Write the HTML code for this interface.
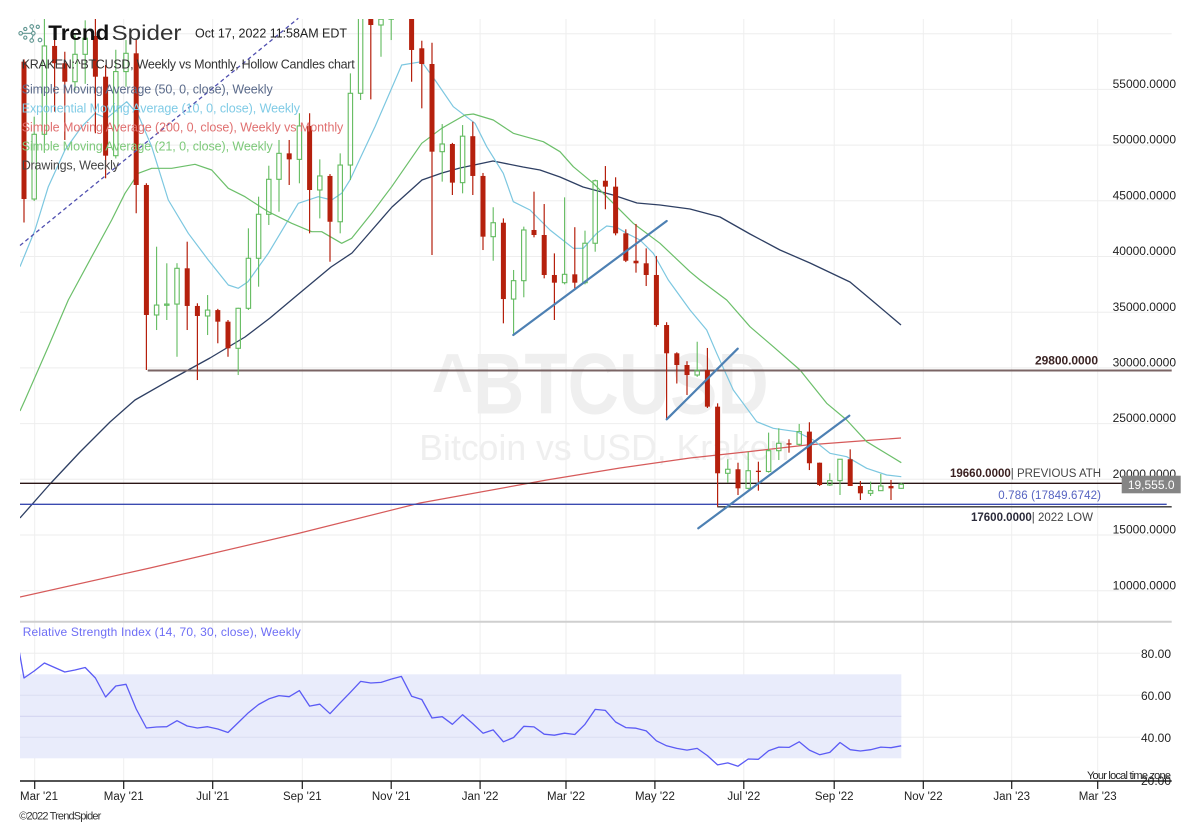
<!DOCTYPE html>
<html><head><meta charset="utf-8">
<style>
html,body{margin:0;padding:0;background:#fff;width:1200px;height:825px;overflow:hidden;}
svg{display:block;font-family:"Liberation Sans",Arial,sans-serif;}
</style></head>
<body>
<svg id="c" width="1200" height="825" viewBox="0 0 1200 825" xmlns="http://www.w3.org/2000/svg">
<defs>
<clipPath id="main"><rect x="20" y="19" width="1152" height="602"/></clipPath>
<clipPath id="rsi"><rect x="20" y="623" width="1152" height="158"/></clipPath>
</defs>
<rect width="1200" height="825" fill="#fff"/>

<!-- vertical gridlines -->
<g stroke="#eeeeee" stroke-width="1">
<line x1="34.7" y1="19" x2="34.7" y2="781"/>
<line x1="123.7" y1="19" x2="123.7" y2="781"/>
<line x1="212.7" y1="19" x2="212.7" y2="781"/>
<line x1="302.3" y1="19" x2="302.3" y2="781"/>
<line x1="391.2" y1="19" x2="391.2" y2="781"/>
<line x1="480.1" y1="19" x2="480.1" y2="781"/>
<line x1="566" y1="19" x2="566" y2="781"/>
<line x1="654.9" y1="19" x2="654.9" y2="781"/>
<line x1="743.8" y1="19" x2="743.8" y2="781"/>
<line x1="834.2" y1="19" x2="834.2" y2="781"/>
<line x1="923.3" y1="19" x2="923.3" y2="781"/>
<line x1="1011.7" y1="19" x2="1011.7" y2="781"/>
<line x1="1097.7" y1="19" x2="1097.7" y2="781"/>
</g>
<!-- horizontal gridlines main -->
<g stroke="#eeeeee" stroke-width="1">
<line x1="20" y1="33.7" x2="1171.7" y2="33.7"/>
<line x1="20" y1="89.4" x2="1171.7" y2="89.4"/>
<line x1="20" y1="145.1" x2="1171.7" y2="145.1"/>
<line x1="20" y1="200.8" x2="1171.7" y2="200.8"/>
<line x1="20" y1="256.5" x2="1171.7" y2="256.5"/>
<line x1="20" y1="312.2" x2="1171.7" y2="312.2"/>
<line x1="20" y1="367.9" x2="1171.7" y2="367.9"/>
<line x1="20" y1="423.6" x2="1171.7" y2="423.6"/>
<line x1="20" y1="479.3" x2="1171.7" y2="479.3"/>
<line x1="20" y1="535" x2="1171.7" y2="535"/>
<line x1="20" y1="590.7" x2="1171.7" y2="590.7"/>
</g>

<!-- watermark -->
<text x="431.7" y="413.3" font-size="86" font-weight="bold" fill="#efefef" textLength="337" lengthAdjust="spacingAndGlyphs">^BTCUSD</text>
<text x="419.3" y="460" font-size="36" fill="#efefef" textLength="370" lengthAdjust="spacingAndGlyphs">Bitcoin vs USD, Kraken</text>

<!-- moving averages -->
<g clip-path="url(#main)" fill="none" stroke-linejoin="round">
<polyline stroke="#d65a5a" stroke-width="1.2" points="20,597 150,568 300,533 420,503 546.7,480 620,468 690,458 750,451.5 806.7,445 860,441 901,438"/>
<polyline stroke="#2e3f63" stroke-width="1.3" points="20,518 50,484 80,452 110,422 135,400 170,380 210,358 245,337 270,318 295,297 331,267 352,253 372,230 392,207 422,180 442,173 460,168 493,161 523,167 540,170 560,177 583,187 613,195 637,203 660,205 690,209 720,217 750,234 780,250 810,263 850,282 875,303 901,325"/>
<polyline stroke="#7cc7e0" stroke-width="1.2" points="20,266.7 35,230 48.3,186.7 65,150 81.7,126.7 95,113.3 106.7,118.3 126.7,101.7 138.3,115 151.7,146.7 168.3,200 188.3,233.3 208.3,260 228.3,285 238.3,288.3 248,281.7 268.3,253.3 298.3,203.3 318.3,196.7 331.7,200 341.7,193.3 350,180 375,126.7 401.7,65 421.7,61.7 435,80 453.3,106.7 475,123.3 486.7,146.7 503.3,173.3 513.3,201.7 530,210 550,230 573.3,248.3 583.3,248.3 596.7,233.3 606.7,226 616.7,227.3 626.7,233.3 640,240 653.3,253.3 668.3,280 690,310 706.7,330 716.7,353.3 733.3,390 756.7,421.7 773.3,428.3 796.7,431.7 813.3,440 830,453.3 846.7,456.7 866.7,468.3 886.7,475 901.3,476.7"/>
<polyline stroke="#6cbf6a" stroke-width="1.2" points="20,411 25,400 48.3,346.7 68.3,300 91.7,256.7 111.7,220 125,193.3 138.3,173.3 151.7,168.3 171.7,168.3 195,164.3 211.7,170 228.3,188.3 245,196.7 255,203.3 268.3,211.7 291.7,223.3 311.7,231.7 321.7,231.7 341.7,243.3 351.7,238.3 371.7,213.3 391.7,186.7 421.7,143.3 441.7,128.3 465,115 473.3,114 493.3,120 513.3,133.3 543.3,141.7 560,151.7 573.3,166.7 593.3,183.3 616.7,206.7 633.3,223.3 660,243.3 690,271.7 700,280 726.7,300 750,326.7 773.3,346.7 800,370 826.7,403.3 846.7,420 866.7,441.7 901.3,462.7"/>
</g>

<!-- horizontal levels -->
<line x1="147.7" y1="370.5" x2="1171.7" y2="370.5" stroke="#7a6464" stroke-width="2"/>
<line x1="20" y1="483.3" x2="1122" y2="483.3" stroke="#2a1515" stroke-width="1.3"/>
<line x1="20" y1="504.3" x2="1166.7" y2="504.3" stroke="#3b4bb0" stroke-width="1.4"/>
<line x1="717.3" y1="506.8" x2="1171.7" y2="506.8" stroke="#333" stroke-width="1.3"/>

<!-- candles -->
<g id="candles" clip-path="url(#main)"></g>

<!-- trend lines -->
<g stroke="#4d80b3" stroke-width="2.2" stroke-linecap="round">
<line x1="513.3" y1="335" x2="666.7" y2="221"/>
<line x1="666.7" y1="419.3" x2="737.7" y2="348.7"/>
<line x1="698.3" y1="528.3" x2="849.3" y2="415.7"/>
</g>
<line x1="20" y1="245.5" x2="298.3" y2="18.3" stroke="#5050b0" stroke-width="1.3" stroke-dasharray="4,3"/>

<!-- header -->
<g fill="none" stroke="#5f9590" stroke-width="1.1">
<circle cx="20.7" cy="33.3" r="1.8"/>
<circle cx="25.3" cy="29" r="1.6"/>
<circle cx="25.3" cy="37.6" r="1.6"/>
<circle cx="31.7" cy="26.5" r="1.8"/>
<circle cx="33.3" cy="33.3" r="1.8"/>
<circle cx="31.7" cy="40.5" r="1.8"/>
<circle cx="37.8" cy="26.8" r="1.6"/>
<circle cx="40" cy="40" r="1.8"/>
<line x1="22.5" y1="33.3" x2="31.5" y2="33.3"/>
<line x1="31.7" y1="28.3" x2="33.3" y2="31.5"/>
<line x1="33.3" y1="35.1" x2="31.7" y2="38.7"/>
</g>
<text x="48.3" y="40" font-size="21" font-weight="bold" fill="#111" textLength="61" lengthAdjust="spacingAndGlyphs">Trend</text>
<text x="111.5" y="40" font-size="21" fill="#333" textLength="70" lengthAdjust="spacingAndGlyphs">Spider</text>
<text x="195" y="37.6" font-size="12.5" fill="#222" textLength="152">Oct 17, 2022 11:58AM EDT</text>
<text x="21.7" y="68.6" font-size="12.5" fill="#333" textLength="333">KRAKEN:^BTCUSD, Weekly vs Monthly, Hollow Candles chart</text>
<text x="21.7" y="93.6" font-size="12.5" fill="#5a6a8a" textLength="251">Simple Moving Average (50, 0, close), Weekly</text>
<text x="21.7" y="112.6" font-size="12.5" fill="#7fcbe6" textLength="278.3">Exponential Moving Average (10, 0, close), Weekly</text>
<text x="21.7" y="131.6" font-size="12.5" fill="#e07070" textLength="321.6">Simple Moving Average (200, 0, close), Weekly vs Monthly</text>
<text x="21.7" y="150.3" font-size="12.5" fill="#7dc97a" textLength="251">Simple Moving Average (21, 0, close), Weekly</text>
<text x="21.7" y="169.3" font-size="12.5" fill="#444" textLength="97.3">Drawings, Weekly</text>

<!-- level annotations -->
<text x="1035" y="364.5" font-size="12" font-weight="bold" fill="#3b2424" textLength="63">29800.0000</text>
<text x="950" y="477" font-size="11.5" fill="#444"><tspan font-weight="bold" fill="#3a2020">19660.0000</tspan>| PREVIOUS ATH</text>
<text x="998.3" y="499" font-size="11.5" fill="#5563c1" textLength="102.7">0.786 (17849.6742)</text>
<text x="971" y="521" font-size="11.5" fill="#444"><tspan font-weight="bold" fill="#2a2a3a">17600.0000</tspan>| 2022 LOW</text>

<!-- right axis labels -->
<g font-size="12" fill="#222" text-anchor="end">
<text x="1176" y="88">55000.0000</text>
<text x="1176" y="143.7">50000.0000</text>
<text x="1176" y="199.4">45000.0000</text>
<text x="1176" y="255.1">40000.0000</text>
<text x="1176" y="310.8">35000.0000</text>
<text x="1176" y="366.5">30000.0000</text>
<text x="1176" y="422.2">25000.0000</text>
<text x="1176" y="477.9">20000.0000</text>
<text x="1176" y="533.6">15000.0000</text>
<text x="1176" y="589.3">10000.0000</text>
</g>
<rect x="1121.7" y="475.7" width="59" height="17.6" fill="#858585"/>
<text x="1151.2" y="488.8" font-size="12" fill="#fff" text-anchor="middle">19,555.0</text>

<!-- RSI panel -->
<line x1="20" y1="621.7" x2="1171.7" y2="621.7" stroke="#cfcfcf" stroke-width="2"/>
<rect x="20" y="674.3" width="881.3" height="84" fill="#e9ecfb"/>
<g stroke="#eeeeee" stroke-width="1">
<line x1="20" y1="653.3" x2="1140" y2="653.3"/>
<line x1="20" y1="695.3" x2="1140" y2="695.3"/>
<line x1="20" y1="737.3" x2="1140" y2="737.3"/>
</g>
<g stroke="#dadef4" stroke-width="1">
<line x1="20" y1="695.3" x2="901.3" y2="695.3"/>
<line x1="20" y1="737.3" x2="901.3" y2="737.3"/>
</g>
<line x1="20" y1="716.3" x2="901.3" y2="716.3" stroke="#d3d6f0" stroke-width="1.2"/>
<text x="22.7" y="636" font-size="12" fill="#6e6ef5" textLength="278">Relative Strength Index (14, 70, 30, close), Weekly</text>
<g id="rsiline" clip-path="url(#rsi)"></g>
<g font-size="12" fill="#222" text-anchor="end">
<text x="1171" y="657.8">80.00</text>
<text x="1171" y="699.8">60.00</text>
<text x="1171" y="741.8">40.00</text>
<text x="1171" y="785">20.00</text>
</g>

<!-- x axis -->
<line x1="20" y1="781" x2="1171.7" y2="781" stroke="#1a1a1a" stroke-width="1.6"/>
<g stroke="#1a1a1a" stroke-width="1.2">
<line x1="34.7" y1="781" x2="34.7" y2="789"/>
<line x1="123.7" y1="781" x2="123.7" y2="789"/>
<line x1="212.7" y1="781" x2="212.7" y2="789"/>
<line x1="302.3" y1="781" x2="302.3" y2="789"/>
<line x1="391.2" y1="781" x2="391.2" y2="789"/>
<line x1="480.1" y1="781" x2="480.1" y2="789"/>
<line x1="566" y1="781" x2="566" y2="789"/>
<line x1="654.9" y1="781" x2="654.9" y2="789"/>
<line x1="743.8" y1="781" x2="743.8" y2="789"/>
<line x1="834.2" y1="781" x2="834.2" y2="789"/>
<line x1="923.3" y1="781" x2="923.3" y2="789"/>
<line x1="1011.7" y1="781" x2="1011.7" y2="789"/>
<line x1="1097.7" y1="781" x2="1097.7" y2="789"/>
</g>
<text x="1171" y="779" font-size="11" fill="#222" text-anchor="end" textLength="84">Your local time zone</text>
<g font-size="11.5" fill="#222" text-anchor="middle">
<text x="39" y="800" >Mar '21</text>
<text x="123.7" y="800">May '21</text>
<text x="212.7" y="800">Jul '21</text>
<text x="302.3" y="800">Sep '21</text>
<text x="391.2" y="800">Nov '21</text>
<text x="480.1" y="800">Jan '22</text>
<text x="566" y="800">Mar '22</text>
<text x="654.9" y="800">May '22</text>
<text x="743.8" y="800">Jul '22</text>
<text x="834.2" y="800">Sep '22</text>
<text x="923.3" y="800">Nov '22</text>
<text x="1011.7" y="800">Jan '23</text>
<text x="1097.7" y="800">Mar '23</text>
</g>
<text x="19.3" y="819.5" font-size="11" fill="#333" textLength="82">©2022 TrendSpider</text>
</svg>

<script>
(function(){
var D=[
[57490,57700,43050,45160],[45160,52550,44980,50970],[50970,61700,49400,58900],[58900,60600,53000,57350],
[57350,58380,50460,55690],[55690,59900,54900,58150],[58150,61200,55500,59590],[59800,64900,51060,56140],
[56140,57190,47020,49050],[49050,58560,48800,56600],[56600,59430,55240,58240],[58240,59430,43880,46420],
[46420,46570,29810,34750],[34750,40880,33400,35640],[35640,39390,34300,35730],[35730,39400,31000,38940],
[38940,41330,33400,35560],[35560,35800,28910,34660],[34660,36540,32950,35190],[35190,35300,32210,34150],
[34150,34300,31000,31760],[31760,35400,29360,35350],[35350,42530,35200,39840],[39840,45370,37290,43790],
[43790,48150,42830,46930],[46930,50460,44020,49260],[49260,50460,46420,48720],[48720,52860,46570,51720],
[51720,52860,42080,45970],[45970,48720,43420,47230],[47230,47400,39530,43120],[43120,49260,42080,48210],
[48210,56440,46870,54650],[54650,62900,54050,61500],[61500,67000,54110,60780],[60780,63700,57930,61300],
[61300,67800,59430,63300],[63300,69000,62300,65500],[65500,66300,55690,58540],[58690,59370,53300,57280],
[57280,59190,40130,49410],[49410,51890,46720,50100],[50100,50200,45520,46630],[46630,51800,45670,50800],
[50800,52100,45520,47230],[47230,47500,40580,41780],[41780,44420,39620,43030],[43030,43420,34000,36180],
[36180,38790,32950,37830],[37830,42680,36340,42380],[42380,45820,41720,41930],[41930,44710,38040,38340],
[38340,40280,34300,37650],[37650,45310,37500,38400],[38400,42630,37140,37650],[37650,42320,37500,41190],
[41190,46900,40430,46800],[46800,48120,44240,46270],[46270,47110,41900,42080],[42080,42440,39500,39620],
[39620,42920,38550,39390],[39390,40730,37350,38340],[38340,40050,33700,33850],[33850,34100,25320,31310],
[31310,31400,28600,30260],[30260,30600,27570,29360],[29360,32350,29200,29800],[29800,31790,26400,26520],
[26520,26820,17540,20540],[20540,21800,19700,20900],[20900,21490,18590,19190],[19190,22480,19100,20770],
[20770,21580,18980,20700],[20700,24190,20600,22570],[22570,24580,21730,23230],[23230,23590,22390,23140],
[23140,24970,23000,24280],[24280,25120,20830,21440],[21490,21500,19400,19490],[19490,20540,19400,19880],
[19880,21800,18590,21800],[21800,22690,19400,19400],[19400,19850,18140,18740],[18740,19790,18500,18980],
[18980,20480,18950,19400],[19400,19940,18140,19190],[19190,19700,19150,19555]
];
function py(p){return 702.1-p*0.01114;}
var R="#b5200d",G="#62bb5f",s="";
for(var i=0;i<D.length;i++){
 var x=24+10.2*i,o=D[i][0],h=D[i][1],l=D[i][2],c=D[i][3];
 var yo=py(o),yh=py(h),yl=py(l),yc=py(c);
 if(c<o){
  s+='<line x1="'+x+'" y1="'+yh+'" x2="'+x+'" y2="'+yl+'" stroke="'+R+'" stroke-width="1.2"/>';
  s+='<rect x="'+(x-2.5)+'" y="'+yo+'" width="5" height="'+Math.max(yc-yo,1.3)+'" fill="'+R+'"/>';
 } else {
  var top=yc,bot=yo;
  if(bot-top<1.2){bot=top+1.2;}
  s+='<line x1="'+x+'" y1="'+yh+'" x2="'+x+'" y2="'+top+'" stroke="'+G+'" stroke-width="1.1"/>';
  s+='<line x1="'+x+'" y1="'+bot+'" x2="'+x+'" y2="'+yl+'" stroke="'+G+'" stroke-width="1.1"/>';
  s+='<rect x="'+(x-2.2)+'" y="'+top+'" width="4.4" height="'+(bot-top)+'" fill="none" stroke="'+G+'" stroke-width="1.1"/>';
 }
}
document.getElementById("candles").innerHTML=s;
var Ry=[621,678,671,663,667.5,672,670,667.5,678,697,686,684.3,709,728,727,726.7,720.7,726,728,726.7,729,732.5,722.6,712.7,704.5,698.9,695.6,696.7,690.6,706.1,704.2,713.7,702.8,692.3,681.4,683,682.4,679.1,676.4,696.2,699.5,718,716.7,724.3,714.7,723.6,733.2,729.9,741.8,737.5,726.3,726.9,734.2,735.2,733.2,734.5,724.3,709.4,710.4,722,727.6,728.2,730.9,740.8,745.8,748.4,750.1,748.4,755.6,764.9,762.9,766.2,759,759.3,750.7,747.1,747.4,741.8,750.1,754.7,752.4,742.5,749.7,751,749.7,747.1,747.7,745.8];
var pts=[];
for(var j=0;j<Ry.length;j++){pts.push((24+10.2*(j-1)).toFixed(1)+","+Ry[j]);}
document.getElementById("rsiline").innerHTML='<polyline fill="none" stroke="#5b5bf5" stroke-width="1.3" stroke-linejoin="round" points="'+pts.join(" ")+'"/>';
})();
</script>
</body></html>
